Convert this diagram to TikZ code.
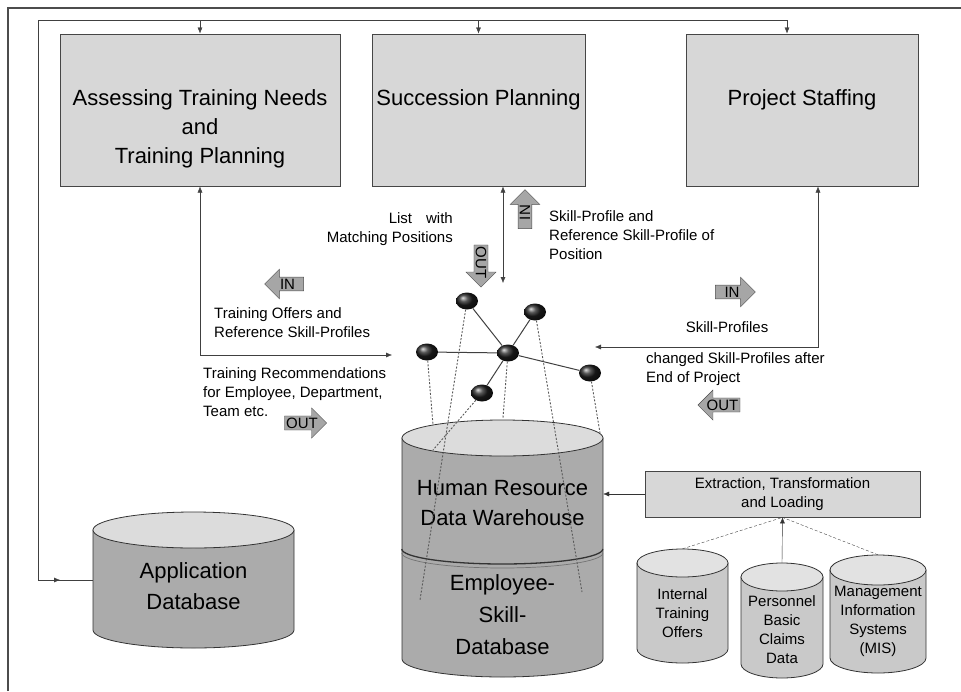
\documentclass[tikz,border=0pt]{standalone}
\usepackage{fontspec}
\setmainfont{Liberation Sans}
\usetikzlibrary{arrows.meta,positioning,calc,shapes.geometric,shapes.arrows}

\definecolor{taskfill}{HTML}{D7D7D7}
\definecolor{dbbody}{HTML}{ABABAB}
\definecolor{dbtop}{HTML}{DCDCDC}
\definecolor{srcbody}{HTML}{C9C9C9}
\definecolor{srctop}{HTML}{E2E2E2}
\definecolor{tagfill}{HTML}{A6A6A6}

% upright drum: name, centre x, top, bottom, x radius, y radius, body and lid colour
\newcommand\drum[8]{%
  \filldraw[fill=#7,draw=black!80,line width=0.8pt] (#2-#5,#3+#6) -- (#2-#5,#4-#6)
      arc[start angle=180,end angle=0,x radius=#5,y radius=#6] -- (#2+#5,#3+#6) -- cycle;
  \filldraw[fill=#8,draw=black!80,line width=0.8pt] (#2,#3+#6) ellipse[x radius=#5,y radius=#6];
  \node[inner sep=0pt,minimum width=2*#5,minimum height=#4-#3] (#1) at (#2,{(#3+#4)/2}) {};}

\begin{document}
\begin{tikzpicture}[x=1pt,y=-1pt]
    % skill management: three planning tasks around the HR warehouse
    \tikzset{task/.style = {shape=rectangle,draw=gray!55!black,fill=taskfill,line width=1pt,
        align=center,font=\fontsize{22}{29}\selectfont}}
    \tikzset{dbtext/.style = {inner sep=0pt,align=center,font=\fontsize{22}{31}\selectfont}}
    \tikzset{srctext/.style = {inner sep=0pt,align=center,font=\fontsize{15}{19}\selectfont}}
    \tikzset{knot/.style = {shape=ellipse,minimum width=22pt,minimum height=17pt,inner sep=0pt,
        shading=ball,ball color=gray!25!black}}
    \tikzset{tag/.style = {shape=single arrow,draw=black!70,fill=tagfill,inner sep=1.5pt,
        single arrow head extend=8pt,single arrow head indent=0pt,
        font=\fontsize{15}{15}\selectfont}}
    \tikzset{note/.style = {inner sep=0pt,font=\fontsize{15}{19}\selectfont}}
    \tikzset{pre/.style = {-{Latex[length=6pt,width=5pt]}}}
    \tikzset{both/.style = {{Latex[length=6pt,width=5pt]}-{Latex[length=6pt,width=5pt]}}}
    \tikzset{drop/.style = {dash pattern=on 2pt off 1.6pt,line width=0.9pt,black!65}}

    \useasboundingbox (0,0) rectangle (961,691);

    % page frame
    \draw[line width=1.6pt,gray!60!black] (8,691) -- (8,8) -- (961,8);

    % planning tasks
    \node[task,minimum width=280pt,minimum height=152pt] (assess) at (200,110)
        {\rule{0pt}{54pt}Assessing Training Needs\\and\\Training Planning};
    \node[task,minimum width=213pt,minimum height=152pt,text depth=25pt] (succ) at (478.5,110)
        {Succession Planning};
    \node[task,minimum width=232pt,minimum height=152pt,text depth=25pt] (staff) at (802,110)
        {Project Staffing};

    % databases
    \drum{appdb}{193.5}{512}{648}{100.5}{18}{dbbody}{dbtop}
    \node[dbtext] (appname) at ($(appdb.center)+(0,6)$) {Application\\Database};
    \drum{hr}{502.5}{420}{677}{100.5}{18}{dbbody}{dbtop}
    \draw[line width=1.3pt,black!80] ($(hr.west |- 0,549)$) arc[start angle=180,end angle=0,x radius=100.5,y radius=15];
    \draw[line width=0.7pt,black!55] ($(hr.west |- 0,553)$) arc[start angle=180,end angle=0,x radius=100.5,y radius=15];
    \node[dbtext,font=\fontsize{22}{30}\selectfont] (hrname) at (502.5,503)
        {Human Resource\\Data Warehouse};
    \node[dbtext,font=\fontsize{22}{32}\selectfont] (esdb) at (502.5,615)
        {Employee-\\Skill-\\Database};

    % extraction from the source systems
    \node[task,minimum width=275pt,minimum height=46pt,line width=0.8pt,
          font=\fontsize{15}{19}\selectfont] (etl) at (782.5,494)
        {Extraction, Transformation\\and Loading};
    \drum{src1}{682.5}{549}{663}{45.5}{14}{srcbody}{srctop}
    \drum{src2}{782}{563}{678}{41}{14}{srcbody}{srctop}
    \drum{src3}{878}{555}{673}{48}{15}{srcbody}{srctop}
    \node[srctext] (src1name) at (682.5,613) {Internal\\Training\\Offers};
    \node[srctext] (src2name) at (782,630) {Personnel\\Basic\\Claims\\Data};
    \node[srctext] (src3name) at (878,621) {Management\\Information\\Systems\\(MIS)};
    \draw[densely dashed,black!75] (src1.north) -- (etl.south);
    \draw[densely dashed,black!75] (src3.north) -- (etl.south);
    \draw[pre,black!80] (src2.north) -- (etl.south);
    \draw[pre,black!80] (etl.west) -- (etl.west -| hr.east);

    % distribution to the tasks
    \coordinate (busL) at (38,20);
    \coordinate (busR) at (787,20);
    \draw[black!75] (busL) -- (busR);
    \draw[pre,black!75] (assess.north |- busL) -- (assess.north);
    \draw[pre,black!75] (succ.north |- busL) -- (succ.north);
    \draw[pre,black!75] (busR) -- (busR |- staff.north);
    \coordinate (appin) at ($(busL |- appdb.west)+(22,0)$);
    \draw[black!75] (busL) -- (busL |- appdb.west) -- (appdb.west);
    \draw[pre,black!75] (busL |- appdb.west) -- (appin);

    % skill network
    \node[knot] (k1) at (467,301) {};
    \node[knot] (k2) at (535,312) {};
    \node[knot] (k3) at (427,352) {};
    \node[knot] (k4) at (508,353) {};
    \node[knot] (k5) at (482,393) {};
    \node[knot] (k6) at (590,373) {};
    \foreach \k in {k1,k2,k3,k5,k6}
        \draw[line width=1pt,black!75] (k4) -- (\k);
    \coordinate (d1) at (420,600);
    \coordinate (d2) at (582,592);
    \coordinate (d3) at (433,425);
    \coordinate (d4) at (503,418);
    \coordinate (d5) at (433,450);
    \coordinate (d6) at (600,433);
    \foreach \k in {1,...,6}
        \draw[drop] (k\k) -- (d\k);

    % training flow
    \coordinate (trainin) at (392,355);
    \draw[both,black!75] (assess.south) |- (trainin);
    \node[tag,minimum height=39pt,shape border rotate=180] (in1) at (287.5,284) {IN};
    \node[note,anchor=west,align=left] (offers) at (214,323)
        {Training Offers and\\Reference Skill-Profiles};
    \node[note,anchor=west,align=left] (recomm) at (203,392)
        {Training Recommendations\\for Employee, Department,\\Team etc.};
    \node[tag,minimum height=40pt] (out1) at (302,423) {OUT};

    % succession flow
    \coordinate (succdrop) at (503,283);
    \draw[both,black!75] (succdrop |- succ.south) -- (succdrop);
    \node[tag,minimum height=39pt,rotate=90] (in2) at (525,212.5) {IN};
    \node[tag,minimum height=39pt,rotate=-90] (out2) at (481,262.5) {OUT};
    \node[note,anchor=east,align=right] (listing) at (453,229)
        {List\hspace{14pt}with\\Matching Positions};
    \node[note,anchor=west,align=left] (profile) at (549,235)
        {Skill-Profile and\\Reference Skill-Profile of\\Position};

    % staffing flow
    \coordinate (staffin) at (595,347);
    \coordinate (staffrun) at (818,347);
    \draw[both,black!75] (staff.south -| staffrun) |- (staffin);
    \node[tag,minimum height=40pt] (in3) at (732,292) {IN};
    \node[note] (skills) at (727,327) {Skill-Profiles};
    \node[note,anchor=west,align=left] (changed) at (646,369)
        {changed Skill-Profiles after\\End of Project};
    \node[tag,minimum height=39pt,shape border rotate=180] (out3) at (722.5,405) {OUT};
\end{tikzpicture}
\end{document}
